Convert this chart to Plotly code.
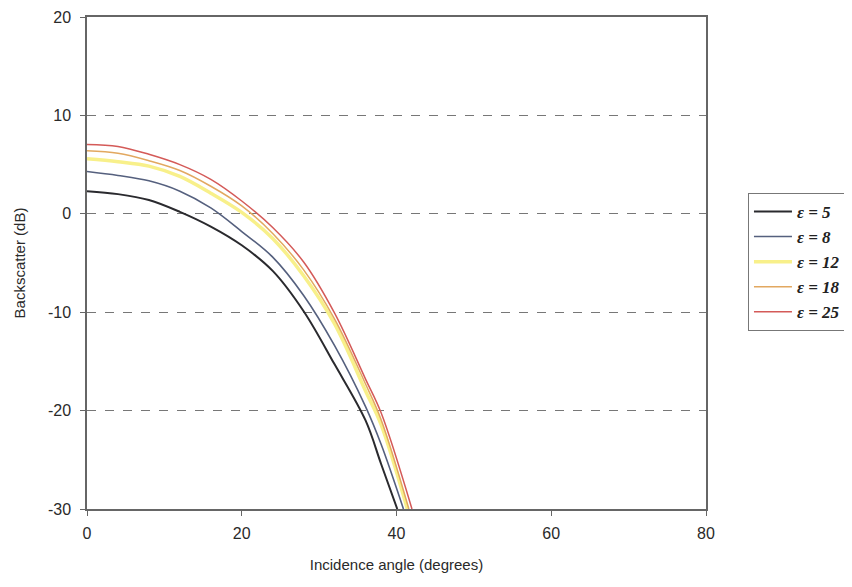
import plotly.graph_objects as go

# Data
labels = ["ε = 5", "ε = 8", "ε = 12", "ε = 18", "ε = 25"]

angles_e5 = [0, 4, 8, 12, 16, 20, 24, 28, 32, 36, 38, 40.1]
values_e5 = [2.3, 2.0, 1.4, 0.2, -1.3, -3.2, -5.8, -9.9, -15.3, -21.0, -25.4, -30]

angles_e8 = [0, 4, 8, 12, 16, 20, 24, 28, 32, 36, 38, 40.9]
values_e8 = [4.3, 3.9, 3.35, 2.3, 0.6, -1.8, -4.4, -8.3, -13.4, -19.6, -23.4, -30]

angles_e12 = [0, 4, 8, 12, 16, 20, 24, 28, 32, 36, 38, 41.4]
values_e12 = [5.6, 5.3, 4.85, 3.8, 2.1, 0.15, -2.5, -6.3, -11.2, -18.0, -21.4, -30]

angles_e18 = [0, 4, 8, 12, 16, 20, 24, 28, 32, 36, 38, 41.6]
values_e18 = [6.4, 6.15, 5.4, 4.4, 2.8, 0.8, -2.0, -5.7, -10.7, -17.3, -20.9, -30]

angles_e25 = [0, 4, 8, 12, 16, 20, 24, 28, 32, 36, 38, 42.0]
values_e25 = [7.05, 6.85, 6.05, 5.0, 3.5, 1.3, -1.4, -4.9, -10.1, -16.8, -20.2, -30]

x_ticks = [0, 20, 40, 60, 80]
y_ticks = [-30, -20, -10, 0, 10, 20]

series = [
    (angles_e5, values_e5, "#2a2a2e", 2.0),
    (angles_e8, values_e8, "#55607e", 1.6),
    (angles_e12, values_e12, "#f8f08a", 3.5),
    (angles_e18, values_e18, "#e2a860", 1.5),
    (angles_e25, values_e25, "#d45a58", 1.5),
]

fig = go.Figure()
for (xs, ys, col, w), name in zip(series, labels):
    fig.add_trace(go.Scatter(
        x=xs, y=ys, mode="lines", name=name,
        line=dict(color=col, width=w, shape="spline", smoothing=1.0),
    ))

tick_font = dict(family="Liberation Sans, Arial", size=16, color="#2a2a2a")
title_font = dict(family="Liberation Sans, Arial", size=15, color="#2a2a2a")

fig.update_layout(
    width=852, height=587,
    margin=dict(l=79, r=154, t=9, b=86),
    paper_bgcolor="white", plot_bgcolor="white",
    showlegend=True,
    legend=dict(
        xref="container", yref="container",
        x=0.8685, y=0.685, xanchor="left", yanchor="top",
        font=dict(family="Liberation Serif", size=17, color="#222222",
                  style="italic", weight="bold"),
        bordercolor="#777777", borderwidth=1, bgcolor="white",
        tracegroupgap=0, itemwidth=38,
    ),
    xaxis=dict(
        range=[0, 80], tickvals=x_ticks, ticktext=[str(v) for v in x_ticks],
        showgrid=False, zeroline=False, automargin=False,
        showline=True, linecolor="#666666", linewidth=1.5, mirror=True,
        ticks="outside", ticklen=5, tickcolor="#666666",
        tickfont=tick_font, ticklabelstandoff=4, ticklabeloverflow="allow",
        title=dict(text="Incidence angle (degrees)", font=title_font, standoff=19),
    ),
    yaxis=dict(
        range=[-30, 20], tickvals=y_ticks, ticktext=[str(v) for v in y_ticks],
        showgrid=True, gridcolor="#777777", griddash="dash", gridwidth=1,
        zeroline=False, automargin=False,
        showline=True, linecolor="#666666", linewidth=1.5, mirror=True,
        ticks="outside", ticklen=5, tickcolor="#666666",
        tickfont=tick_font, ticklabelstandoff=6, ticklabeloverflow="allow",
        title=dict(text="Backscatter (dB)", font=title_font, standoff=19),
    ),
)

fig.write_html("out.html")
